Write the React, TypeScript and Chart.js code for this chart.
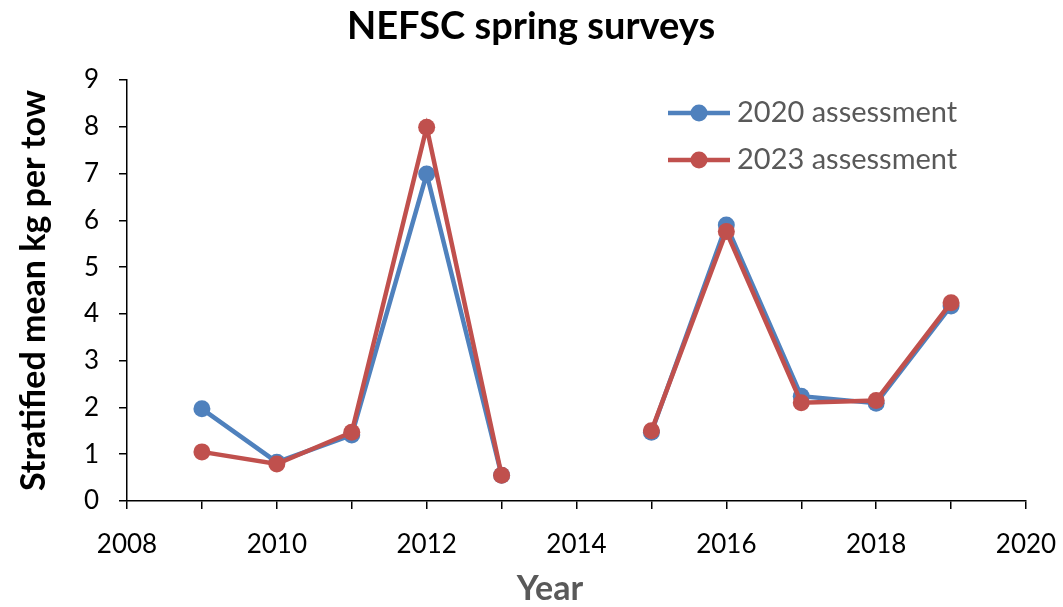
import React, { useEffect, useRef } from "react";
import { Chart, registerables } from "chart.js";

Chart.register(...registerables);

// Survey years (2014 has no survey)
const years = [2009, 2010, 2011, 2012, 2013, 2014, 2015, 2016, 2017, 2018, 2019];
// Stratified mean kg per tow, 2020 assessment
const assess2020 = [1.97, 0.83, 1.41, 6.99, 0.55, null, 1.47, 5.9, 2.24, 2.09, 4.17];
// Stratified mean kg per tow, 2023 assessment
const assess2023 = [1.05, 0.79, 1.47, 7.99, 0.55, null, 1.5, 5.76, 2.1, 2.15, 4.24];

const seriesLabels = ["2020 assessment", "2023 assessment"];
const seriesColors = ["#4F81BD", "#C0504D"];
const titleText = "NEFSC spring surveys";
const xTitle = "Year";
const yTitle = "Stratified mean kg per tow";

const FONT = "Lato, 'Open Sans', sans-serif";

const toPoints = (vals: (number | null)[]) =>
  years.map((y, i) => ({ x: y, y: vals[i] }));

// Title, axis titles and in-plot legend
const decorPlugin = {
  id: "decor",
  afterDraw(chart: any) {
    const ctx = chart.ctx;
    const area = chart.chartArea;
    ctx.save();
    ctx.textBaseline = "middle";
    // chart title
    ctx.fillStyle = "#000";
    ctx.font = `bold 38px ${FONT}`;
    ctx.textAlign = "center";
    ctx.fillText(titleText, 531, 27);
    // x axis title
    ctx.fillStyle = "#595959";
    ctx.font = `bold 34px ${FONT}`;
    ctx.fillText(xTitle, 550, 589);
    // y axis title
    ctx.save();
    ctx.translate(34, (area.top + area.bottom) / 2);
    ctx.rotate(-Math.PI / 2);
    ctx.fillStyle = "#000";
    ctx.font = `bold 34px ${FONT}`;
    ctx.fillText(yTitle, 0, 0);
    ctx.restore();
    // legend
    const rows = [113, 160];
    rows.forEach((ly, i) => {
      ctx.strokeStyle = seriesColors[i];
      ctx.lineWidth = 4.5;
      ctx.beginPath();
      ctx.moveTo(668, ly);
      ctx.lineTo(730, ly);
      ctx.stroke();
      ctx.fillStyle = seriesColors[i];
      ctx.beginPath();
      ctx.arc(699, ly, 8.5, 0, Math.PI * 2);
      ctx.fill();
      ctx.fillStyle = "#595959";
      ctx.font = `29px ${FONT}`;
      ctx.textAlign = "left";
      ctx.fillText(seriesLabels[i], 737, ly);
    });
    ctx.restore();
  },
};

export default function App() {
  const canvasRef = useRef<HTMLCanvasElement | null>(null);

  useEffect(() => {
    document.body.style.margin = "0";
    const canvas = canvasRef.current;
    if (!canvas) return;
    const chart = new Chart(canvas, {
      type: "line",
      data: {
        datasets: [assess2020, assess2023].map((vals, i) => ({
          label: seriesLabels[i],
          data: toPoints(vals),
          borderColor: seriesColors[i],
          backgroundColor: seriesColors[i],
          borderWidth: 4.5,
          pointRadius: 8.5,
          pointHoverRadius: 8.5,
          pointBorderWidth: 0,
          spanGaps: false,
          tension: 0,
          // the 2023 series sits on top
          order: i === 1 ? 0 : 1,
        })),
      },
      options: {
        animation: false,
        responsive: false,
        events: [],
        layout: { padding: { top: 80, right: 37, left: 0, bottom: 0 } },
        plugins: {
          legend: { display: false },
          title: { display: false },
          tooltip: { enabled: false },
        },
        scales: {
          x: {
            type: "linear",
            min: 2008,
            max: 2020,
            border: { display: true, color: "#000", width: 1.5 },
            grid: {
              drawOnChartArea: false,
              drawTicks: true,
              tickLength: 8,
              color: "#000",
              lineWidth: 1.5,
            },
            ticks: {
              stepSize: 1,
              autoSkip: false,
              maxRotation: 0,
              padding: 20,
              color: "#000",
              font: { family: FONT, size: 26 },
              callback: (v: any) => (Number(v) % 2 === 0 ? String(v) : ""),
            },
            afterFit: (scale: any) => {
              scale.height = 106;
              scale.paddingLeft = 0;
              scale.paddingRight = 0;
            },
          },
          y: {
            min: 0,
            max: 9,
            border: { display: true, color: "#000", width: 1.5 },
            grid: {
              drawOnChartArea: false,
              drawTicks: true,
              tickLength: 8,
              color: "#000",
              lineWidth: 1.5,
            },
            ticks: {
              stepSize: 1,
              padding: 20,
              color: "#000",
              font: { family: FONT, size: 26 },
            },
            afterFit: (scale: any) => {
              scale.width = 127;
            },
          },
        },
      },
      plugins: [decorPlugin],
    });
    return () => chart.destroy();
  }, []);

  return (
    <div style={{ width: 1063, height: 607, background: "#fff" }}>
      <canvas ref={canvasRef} width={1063} height={607} />
    </div>
  );
}
